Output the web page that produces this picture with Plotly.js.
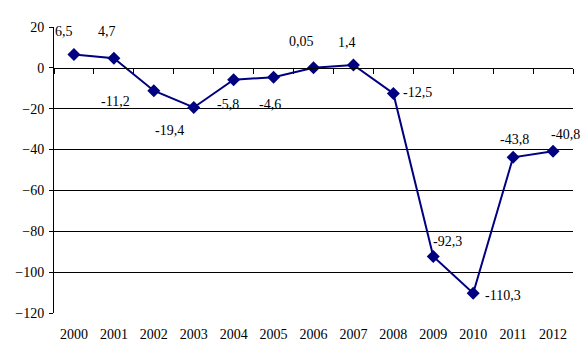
<!DOCTYPE html>
<html>
<head>
<meta charset="utf-8">
<script src="https://cdn.plot.ly/plotly-3.0.1.min.js"></script>
<style>html,body{margin:0;padding:0;background:#fff;}#chart{width:588px;height:360px;}</style>
</head>
<body>
<div id="chart"></div>
<script>
var years = ['2000','2001','2002','2003','2004','2005','2006','2007','2008','2009','2010','2011','2012'];
var values = [6.5, 4.7, -11.2, -19.4, -5.8, -4.6, 0.05, 1.4, -12.5, -92.3, -110.3, -43.8, -40.8];
var labels = ['6,5','4,7','-11,2','-19,4','-5,8','-4,6','0,05','1,4','-12,5','-92,3','-110,3','-43,8','-40,8'];
var yTicks = [-120, -100, -80, -60, -40, -20, 0, 20];
var yRange = [-120, 20];

// label offsets (style only, px relative to the point)
var labelShift = [[-10,-23],[-7,-27],[-38,11],[-24,23],[-6,25],[-4,27],[-12,-26],[-6,-23],[24,-1],[14,-15],[30,2],[1,-18],[12,-17]];

var font = {family: 'Liberation Serif, Times New Roman, serif', size: 14, color: '#000'};
var navy = '#000080';

var traces = [{
  x: years, y: values, type: 'scatter', mode: 'lines+markers',
  line: {color: navy, width: 2},
  marker: {symbol: 'diamond', size: 10, color: navy},
  hoverinfo: 'skip', xaxis: 'x', yaxis: 'y'
},{
  x: years, y: values, type: 'scatter', mode: 'markers',
  marker: {opacity: 0}, hoverinfo: 'skip', xaxis: 'x2', yaxis: 'y2', showlegend: false
}];

// category index positions (numeric-looking category names would be read as indices)
var annotations = years.map(function(yr, i){
  return {x: years.indexOf(yr), y: values[i], xref: 'x', yref: 'y', text: labels[i], showarrow: false,
    xshift: labelShift[i][0], yshift: -labelShift[i][1],
    font: {family: font.family, size: font.size, color: font.color}};
});

var gridVals = yTicks.filter(function(v){ return v > yRange[0] && v < yRange[1] && v !== 0; });

var layout = {
  width: 588, height: 360,
  margin: {l: 54, r: 15, t: 27, b: 47},
  paper_bgcolor: '#fff', plot_bgcolor: '#fff',
  showlegend: false,
  font: font,
  xaxis: {type: 'category', categoryarray: years, range: [-0.5, years.length - 0.5],
    showline: false, ticks: '', showgrid: false, zeroline: false,
    ticklabelstandoff: 11, tickfont: font},
  xaxis2: {type: 'category', categoryarray: years, range: [-0.5, years.length - 0.5],
    overlaying: 'x', anchor: 'free', side: 'bottom',
    position: (0 - yRange[0]) / (yRange[1] - yRange[0]),
    showline: true, linecolor: '#000', linewidth: 1,
    ticks: 'outside', ticklen: 5, tickcolor: '#000', tickson: 'boundaries',
    showticklabels: false, showgrid: false, zeroline: false},
  yaxis: {range: yRange, tickmode: 'array', tickvals: yTicks,
    showline: true, linecolor: '#000', linewidth: 1,
    ticks: 'outside', ticklen: 4, tickcolor: '#000',
    showgrid: false, zeroline: false, tickfont: font, ticklabelstandoff: 2},
  yaxis2: {range: yRange, overlaying: 'y', anchor: 'x', side: 'left',
    tickmode: 'array', tickvals: gridVals,
    showgrid: true, gridcolor: '#000', gridwidth: 1,
    showticklabels: false, ticks: '', showline: false, zeroline: false},
  annotations: annotations
};

Plotly.newPlot('chart', traces, layout, {displayModeBar: false, staticPlot: true});
</script>
</body>
</html>
